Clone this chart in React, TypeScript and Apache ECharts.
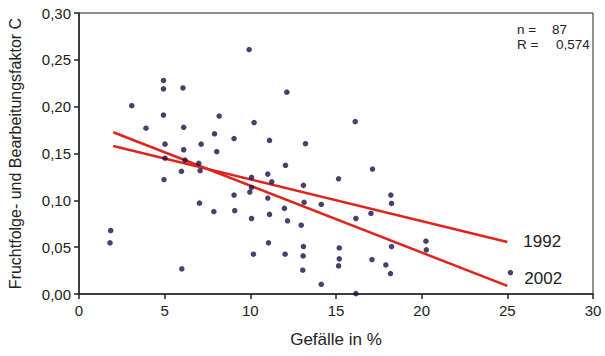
import React, { useEffect, useRef } from "react";
import * as echarts from "echarts";

const points: [number, number][] = [
  [9.93, 0.261], [4.93, 0.228], [4.93, 0.219], [6.07, 0.22], [3.08, 0.201],
  [12.13, 0.2155], [4.93, 0.191], [8.18, 0.19], [10.22, 0.183], [16.12, 0.184],
  [3.91, 0.177], [6.11, 0.178], [7.91, 0.171], [9.05, 0.166], [11.12, 0.164],
  [13.22, 0.1605], [5.02, 0.16], [7.13, 0.16], [6.11, 0.154], [8.04, 0.152],
  [5.02, 0.145], [6.19, 0.143], [6.99, 0.1395], [12.05, 0.1374], [17.13, 0.1334],
  [5.98, 0.131], [7.07, 0.1316], [10.07, 0.1245], [11.02, 0.128], [4.96, 0.1222],
  [15.15, 0.123], [11.25, 0.1198], [13.1, 0.116], [10.07, 0.1138], [9.97, 0.1088],
  [9.05, 0.1056], [18.2, 0.1056], [11.02, 0.1024], [13.14, 0.0978], [14.14, 0.0956],
  [18.24, 0.0967], [7.03, 0.097], [11.99, 0.0914], [7.87, 0.088], [9.09, 0.089],
  [11.12, 0.085], [17.04, 0.086], [10.07, 0.0806], [16.16, 0.0806], [12.17, 0.0781],
  [12.97, 0.0735], [1.85, 0.0678], [20.25, 0.0564], [1.81, 0.0546], [11.06, 0.0546],
  [13.1, 0.0507], [18.24, 0.0507], [15.19, 0.0492], [20.27, 0.0471], [10.18, 0.0425],
  [12.03, 0.0425], [13.08, 0.0407], [15.19, 0.0375], [17.1, 0.0368], [15.15, 0.03],
  [17.91, 0.031], [6.0, 0.0268], [13.06, 0.0254], [25.18, 0.0229], [18.18, 0.0218],
  [14.14, 0.0104], [16.16, 0.0004],
];

const line1992: [number, number][] = [[2, 0.158], [25, 0.0556]];
const line2002: [number, number][] = [[2, 0.1727], [25, 0.0086]];
const lineLabels = ["1992", "2002"];
const statLabels = ["n =", "87", "R =", "0,574"];
const xTitle = "Gefälle in %";
const yTitle = "Fruchtfolge- und Bearbeitungsfaktor C";

const FONT = "'Liberation Sans', Arial, sans-serif";

export default function App() {
  const ref = useRef<HTMLDivElement>(null);
  useEffect(() => {
    if (!ref.current) return;
    const chart = echarts.init(ref.current, undefined, { renderer: "svg" });
    chart.setOption({
      animation: false,
      backgroundColor: "#ffffff",
      grid: {
        left: 79,
        right: 12,
        top: 13,
        bottom: 62,
        containLabel: false,
        outerBoundsMode: "none",
        show: true,
        borderColor: "#222",
        borderWidth: 1,
      },
      xAxis: {
        type: "value",
        min: 0,
        max: 30,
        interval: 5,
        name: xTitle,
        nameLocation: "middle",
        nameGap: 37,
        nameTextStyle: { fontFamily: FONT, fontSize: 17, color: "#222" },
        axisLine: { show: true, lineStyle: { color: "#222", width: 1.5 } },
        axisTick: { show: true, length: 5, lineStyle: { color: "#222", width: 1.5 } },
        axisLabel: { fontFamily: FONT, fontSize: 15, color: "#222", margin: 9 },
        splitLine: { show: false },
      },
      yAxis: {
        type: "value",
        min: 0,
        max: 0.3,
        interval: 0.05,
        name: yTitle,
        nameLocation: "middle",
        nameGap: 56,
        nameTextStyle: { fontFamily: FONT, fontSize: 16, color: "#222" },
        axisLine: { show: true, lineStyle: { color: "#222", width: 1.5 } },
        axisTick: { show: true, length: 5, lineStyle: { color: "#222", width: 1.5 } },
        axisLabel: {
          fontFamily: FONT,
          fontSize: 15,
          color: "#222",
          margin: 8,
          formatter: (v: number) => v.toFixed(2).replace(".", ","),
        },
        splitLine: { show: false },
      },
      series: [
        {
          type: "scatter",
          data: points,
          symbol: "circle",
          symbolSize: 5.5,
          itemStyle: { color: "#1a1045" },
          z: 3,
        },
        {
          type: "line",
          data: line1992,
          symbol: "none",
          showSymbol: false,
          lineStyle: { color: "#e0241b", width: 2.5 },
          endLabel: {
            show: true,
            formatter: lineLabels[0],
            distance: 16,
            fontFamily: FONT,
            fontSize: 17,
            color: "#222",
          },
          z: 2,
        },
        {
          type: "line",
          data: line2002,
          symbol: "none",
          showSymbol: false,
          lineStyle: { color: "#e0241b", width: 2.5 },
          endLabel: {
            show: true,
            formatter: lineLabels[1],
            distance: 17,
            offset: [0, -7],
            fontFamily: FONT,
            fontSize: 17,
            color: "#222",
          },
          z: 2,
        },
      ],
      graphic: [
        { type: "text", left: 517, top: 22, style: { text: statLabels[0], fontFamily: FONT, fontSize: 13.5, fill: "#222" } },
        { type: "text", left: 552, top: 22, style: { text: statLabels[1], fontFamily: FONT, fontSize: 13.5, fill: "#222" } },
        { type: "text", left: 517, top: 37, style: { text: statLabels[2], fontFamily: FONT, fontSize: 13.5, fill: "#222" } },
        { type: "text", left: 556, top: 37, style: { text: statLabels[3], fontFamily: FONT, fontSize: 13.5, fill: "#222" } },
      ],
    });
    return () => chart.dispose();
  }, []);
  return (
    <div
      ref={ref}
      style={{ position: "fixed", left: 0, top: 0, width: 605, height: 356 }}
    />
  );
}
